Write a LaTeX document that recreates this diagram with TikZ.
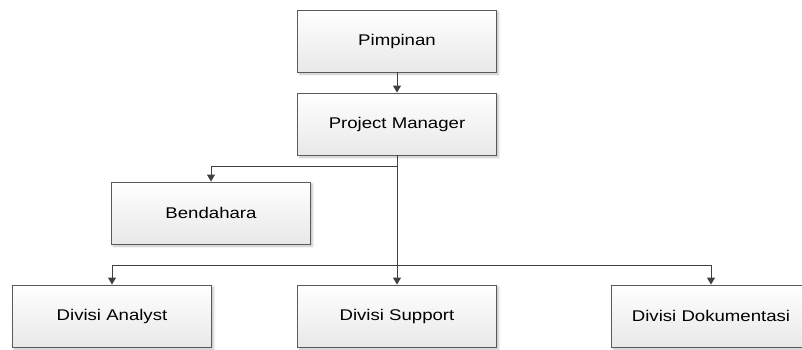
\documentclass[tikz,border=0pt]{standalone}
\usepackage{fontspec}
\setmainfont{Liberation Sans}[FakeStretch=1.2]
\usetikzlibrary{arrows.meta,shadows.blur}
\definecolor{boxline}{HTML}{5A5A5A}
\definecolor{linkgray}{HTML}{404040}
\tikzset{%
    unit/.style={%
        draw=boxline, line width=0.9pt,
        top color=white, bottom color=black!9,
        minimum width=199pt, minimum height=62pt, inner sep=0pt,
        blur shadow={shadow xshift=2pt, shadow yshift=-2pt, shadow blur steps=4, shadow opacity=25},
        font=\fontsize{15.5}{18}\selectfont
    },
    link/.style={draw=linkgray, line width=0.9pt, -{Triangle[length=7pt,width=8pt]}}
}

\begin{document}
\begin{tikzpicture}[x=1pt,y=-1pt]
	\useasboundingbox (0,0) rectangle (802,349);
	\clip (0,0) rectangle (802,349);
	\node[unit] (pimpinan) at (397,41) {Pimpinan};
	\node[unit] (pm) at (397,124) {Project Manager};
	\node[unit] (bendahara) at (211,213) {Bendahara};
	\node[unit] (analyst) at (112,316) {Divisi Analyst};
	\node[unit] (support) at (397,316) {Divisi Support};
	\node[unit] (dokumentasi) at (711,316) {Divisi Dokumentasi};
	\coordinate (fork1) at (397,166);
	\coordinate (fork2) at (397,265);
	\draw[link] (pimpinan) -- (pm);
	\draw[link] (pm) -- (support);
	\draw[link] (fork1) -| (bendahara.north);
	\draw[link] (fork2) -| (analyst.north);
	\draw[link] (fork2) -| (dokumentasi.north);
\end{tikzpicture}
\end{document}
